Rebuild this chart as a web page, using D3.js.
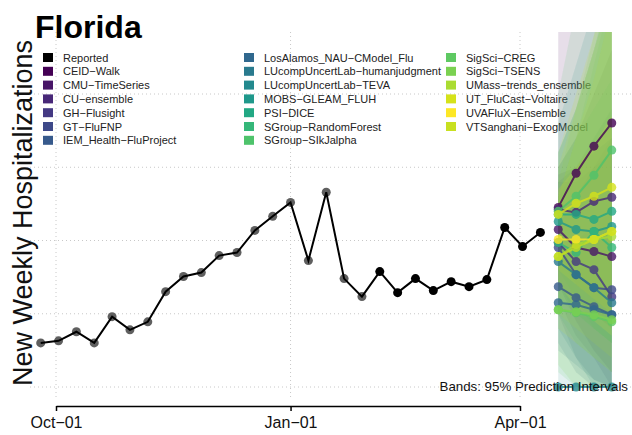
<!DOCTYPE html>
<html>
<head>
<meta charset="utf-8">
<script src="https://cdn.jsdelivr.net/npm/d3@7"></script>
<style>
  html, body { margin: 0; padding: 0; background: #fff; }
  svg { display: block; font-family: "Liberation Sans", Arial, sans-serif; }
</style>
</head>
<body>
<svg id="chart" width="632" height="435"></svg>
<script>
// ---------------- DATA ----------------
const title = "Florida";
const yLabel = "New Weekly Hospitalizations";
const bandNote = "Bands: 95% Prediction Intervals";

const xTickDates = ["2022-10-01", "2023-01-01", "2023-04-01"];
const xTickLabels = ["Oct\u221201", "Jan\u221201", "Apr\u221201"];
const yGridValues = [0, 500, 1000, 1500, 2000];

const reportedDates = [
  "2022-09-25","2022-10-02","2022-10-09","2022-10-16","2022-10-23","2022-10-30",
  "2022-11-06","2022-11-13","2022-11-20","2022-11-27","2022-12-04","2022-12-11",
  "2022-12-18","2022-12-25","2023-01-01","2023-01-08","2023-01-15","2023-01-22",
  "2023-01-29","2023-02-05","2023-02-12","2023-02-19","2023-02-26","2023-03-05",
  "2023-03-12","2023-03-19","2023-03-26","2023-04-02","2023-04-09"
];
const reportedValues = [
  301, 315, 377, 301, 480, 390, 445, 651, 754, 781, 897, 918,
  1069, 1165, 1260, 863, 1329, 740, 617, 788, 644, 740, 658, 719,
  685, 733, 1089, 959, 1055
];
// points before this date are drawn grey, later ones black
const reportedRecentFrom = "2023-02-05";

const forecastDates = ["2023-04-16", "2023-04-23", "2023-04-30", "2023-05-07"];

const models = [
  "CEID\u2212Walk", "CMU\u2212TimeSeries", "CU\u2212ensemble", "GH\u2212Flusight",
  "GT\u2212FluFNP", "IEM_Health\u2212FluProject", "LosAlamos_NAU\u2212CModel_Flu",
  "LUcompUncertLab\u2212humanjudgment", "LUcompUncertLab\u2212TEVA", "MOBS\u2212GLEAM_FLUH",
  "PSI\u2212DICE", "SGroup\u2212RandomForest", "SGroup\u2212SIkJalpha", "SigSci\u2212CREG",
  "SigSci\u2212TSENS", "UMass\u2212trends_ensemble", "UT_FluCast\u2212Voltaire",
  "UVAFluX\u2212Ensemble", "VTSanghani\u2212ExogModel"
];

const forecastMedian = [
  [1226, 1459, 1644, 1802],
  [1075, 952, 925, 890],
  [1212, 1192, 1267, 1295],
  [986, 856, 801, 616],
  [952, 767, 678, 664],
  [685, 610, 548, 493],
  [575, 562, 527, 493],
  [856, 767, 678, 575],
  [0, 0, 0, 0],
  [1130, 1075, 1062, 1096],
  [1178, 1178, 1144, 1199],
  [986, 918, 1062, 952],
  [1199, 1302, 1445, 1617],
  [527, 507, 480, 445],
  [527, 514, 493, 459],
  [890, 973, 1007, 1027],
  [1178, 1254, 1302, 1363],
  [1007, 1007, 1007, 1062],
  [890, 952, 1007, 1062]
];
const forecastLower = [
  [700, 600, 500, 400],
  [700, 450, 250, 100],
  [900, 700, 600, 500],
  [600, 350, 200, 0],
  [500, 200, 50, 0],
  [300, 100, 0, 0],
  [250, 150, 50, 0],
  [400, 200, 0, 0],
  [0, 0, 0, 0],
  [700, 500, 400, 300],
  [800, 600, 400, 300],
  [500, 300, 200, 100],
  [600, 500, 400, 300],
  [100, 0, 0, 0],
  [150, 0, 0, 0],
  [500, 400, 300, 200],
  [800, 700, 600, 500],
  [700, 550, 450, 350],
  [400, 300, 200, 100]
];
const forecastUpper = [
  [2600, 3200, 3800, 4400],
  [1450, 1500, 1650, 1800],
  [1500, 1700, 2000, 2300],
  [1400, 1500, 1600, 1700],
  [1400, 1400, 1500, 1600],
  [1100, 1300, 1500, 1700],
  [900, 1000, 1100, 1200],
  [1300, 1500, 1700, 1900],
  [1800, 2200, 2600, 3000],
  [1600, 1900, 2300, 2700],
  [1600, 1900, 2300, 2800],
  [1500, 1700, 1900, 2100],
  [2000, 2600, 3200, 3800],
  [1300, 1700, 2200, 2700],
  [1400, 1900, 2400, 2900],
  [1300, 1700, 2100, 2600],
  [1600, 2000, 2400, 2800],
  [1350, 1500, 1650, 1850],
  [1500, 1900, 2300, 2700]
];

// ---------------- STYLE ----------------
const palette = [
  "#440154", "#481668", "#482878", "#443983", "#3e4989", "#375a8c", "#30688e",
  "#297a8e", "#23898e", "#1f988b", "#22a884", "#35b779", "#4ec36b", "#5ec962",
  "#7ad151", "#aadc32", "#d5e21a", "#fde725", "#c8e020"
];

const W = 632, H = 435;
const svg = d3.select("#chart");
const parse = d3.timeParse("%Y-%m-%d");

const x = d3.scaleTime()
  .domain([parse(xTickDates[0]), parse(xTickDates[2])])
  .range([56, 520]);
const y = d3.scaleLinear().domain([0, 2000]).range([387, 94]);

const panelTop = 32;

svg.append("defs").append("clipPath").attr("id", "panel")
  .append("rect").attr("x", 0).attr("y", panelTop).attr("width", W).attr("height", H - panelTop);

// grid
const grid = svg.append("g").attr("stroke", "#c8c8c8").attr("stroke-width", 1)
  .attr("stroke-dasharray", "1,3");
grid.selectAll("line.h").data(yGridValues).join("line").attr("class", "h")
  .attr("x1", 30).attr("x2", W).attr("y1", d => y(d)).attr("y2", d => y(d));
grid.selectAll("line.v").data(xTickDates).join("line").attr("class", "v")
  .attr("x1", d => x(parse(d))).attr("x2", d => x(parse(d)))
  .attr("y1", panelTop).attr("y2", 400);

// title
svg.append("text").attr("x", 35).attr("y", 38)
  .attr("font-size", 32).attr("font-weight", "bold").attr("fill", "#000")
  .text(title);

// y label
svg.append("text")
  .attr("transform", "translate(32,213) rotate(-90)")
  .attr("text-anchor", "middle").attr("font-size", 27).attr("fill", "#111")
  .text(yLabel);

// legend
const legendItems = [{ name: "Reported", color: "#000" }]
  .concat(models.map((m, i) => ({ name: m, color: palette[i] })));
const colX = [43, 244, 446];
const rowY0 = 57.5, rowStep = 13.8;
const lg = svg.append("g");
legendItems.forEach((it, i) => {
  const c = Math.floor(i / 7), r = i % 7;
  const g = lg.append("g").attr("transform", `translate(${colX[c]},${rowY0 + r * rowStep})`);
  g.append("rect").attr("x", 0).attr("y", -4.5).attr("width", 10).attr("height", 9).attr("fill", it.color);
  g.append("text").attr("x", 20).attr("y", 4).attr("font-size", 11).attr("fill", "#222").text(it.name);
});

// forecasts
const plot = svg.append("g").attr("clip-path", "url(#panel)");
const fx = forecastDates.map(parse);

const area = d3.area().x(d => x(d.date)).y0(d => y(d.lo)).y1(d => y(d.hi));
models.forEach((m, i) => {
  const pts = fx.map((d, k) => ({ date: d, lo: forecastLower[i][k], hi: forecastUpper[i][k] }));
  plot.append("path").datum(pts).attr("d", area)
    .attr("fill", palette[i]).attr("fill-opacity", 0.13).attr("stroke", "none");
});

const line = d3.line().x(d => x(d.date)).y(d => y(d.v));
models.forEach((m, i) => {
  const pts = fx.map((d, k) => ({ date: d, v: forecastMedian[i][k] }));
  const g = plot.append("g").attr("opacity", 0.8);
  g.append("path").datum(pts).attr("d", line).attr("fill", "none")
    .attr("stroke", palette[i]).attr("stroke-width", 2);
  g.selectAll("circle").data(pts).join("circle")
    .attr("cx", d => x(d.date)).attr("cy", d => y(d.v)).attr("r", 4.5)
    .attr("fill", palette[i]);
});

// reported
const rep = reportedDates.map((d, i) => ({ date: parse(d), v: reportedValues[i] }));
const split = parse(reportedRecentFrom);
plot.selectAll("circle.old").data(rep.filter(d => d.date < split)).join("circle")
  .attr("class", "old").attr("cx", d => x(d.date)).attr("cy", d => y(d.v)).attr("r", 4.5)
  .attr("fill", "#5f5f5f");
plot.append("path").datum(rep).attr("d", line).attr("fill", "none")
  .attr("stroke", "#000").attr("stroke-width", 2);
plot.selectAll("circle.new").data(rep.filter(d => d.date >= split)).join("circle")
  .attr("class", "new").attr("cx", d => x(d.date)).attr("cy", d => y(d.v)).attr("r", 4.5)
  .attr("fill", "#000");

// band note
svg.append("text").attr("x", 628).attr("y", 391).attr("text-anchor", "end")
  .attr("font-size", 13.3).attr("fill", "#111").text(bandNote);

// x axis
const xAxis = d3.axisBottom(x)
  .tickValues(xTickDates.map(parse))
  .tickFormat((d, i) => xTickLabels[i])
  .tickSize(5).tickSizeOuter(0);
const ax = svg.append("g").attr("transform", "translate(0,406)").call(xAxis);
ax.select(".domain").attr("stroke", "#000").attr("stroke-width", 1.5);
ax.selectAll(".tick line").attr("stroke", "#000").attr("stroke-width", 1.5);
ax.selectAll(".tick text").attr("font-size", 16).attr("fill", "#111")
  .attr("font-family", "Liberation Sans, Arial, sans-serif").attr("dy", "0.9em");
</script>
</body>
</html>
